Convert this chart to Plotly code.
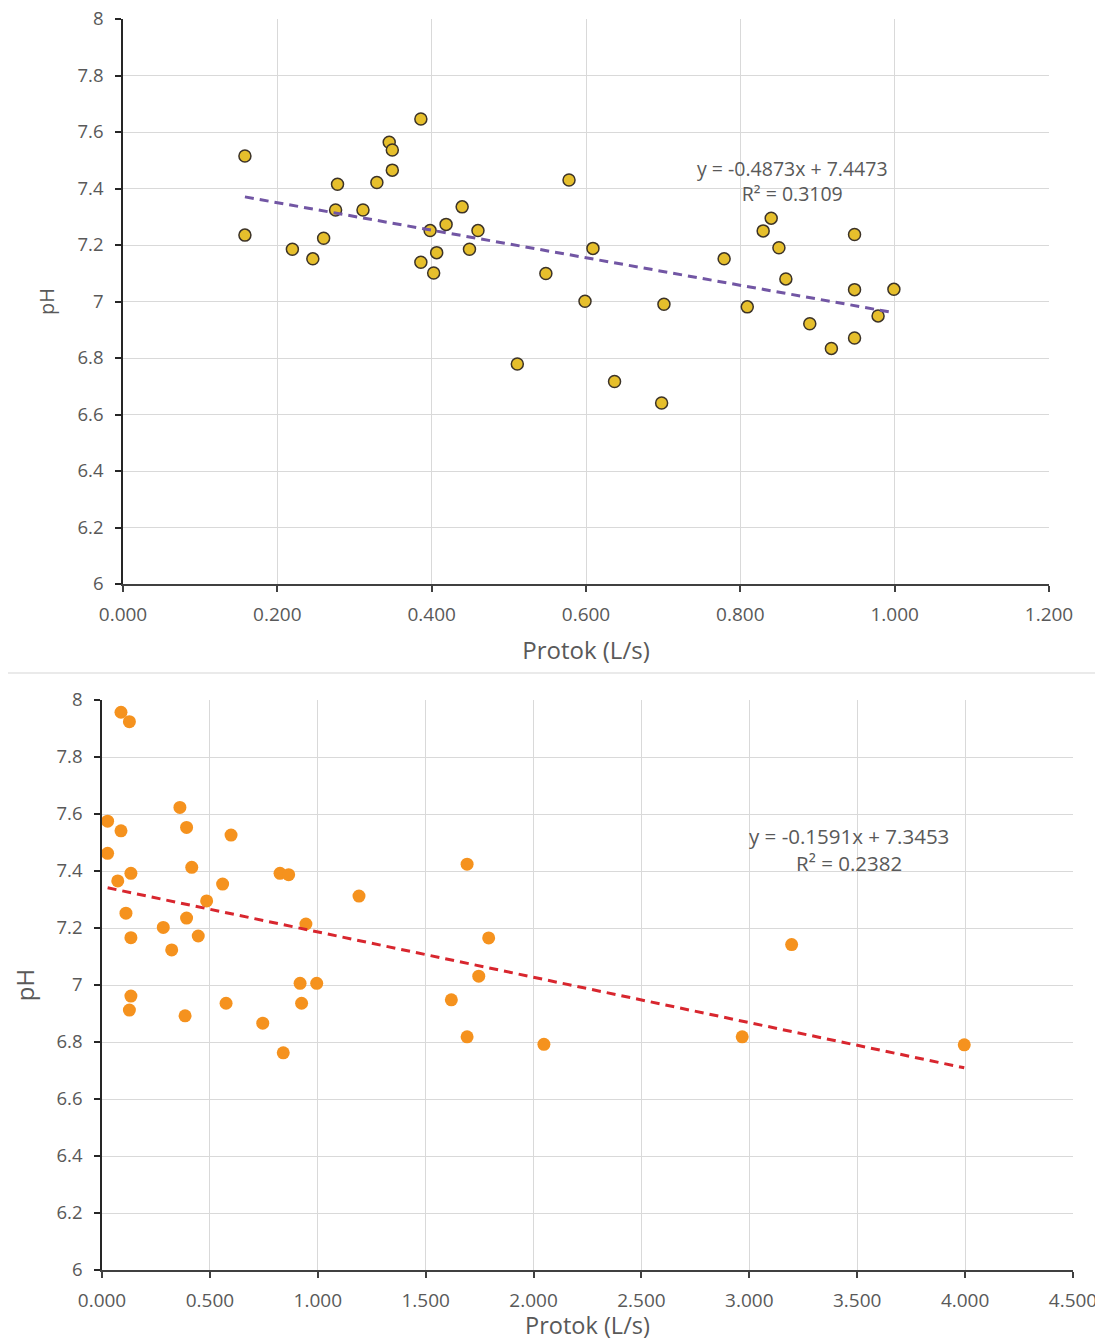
import plotly.graph_objects as go

# ---------------- data: top chart ----------------
top_x = [0.158, 0.158, 0.2195, 0.246, 0.260, 0.278, 0.2755, 0.311, 0.329, 0.345,
         0.349, 0.349, 0.386, 0.386, 0.398, 0.4026, 0.4065, 0.4187, 0.4395, 0.449,
         0.460, 0.578, 0.609, 0.548, 0.5987, 0.701, 0.511, 0.637, 0.698, 0.779,
         0.809, 0.8296, 0.840, 0.850, 0.859, 0.890, 0.918, 0.948, 0.948, 0.948,
         0.9785, 0.999]
top_y = [7.515, 7.235, 7.185, 7.151, 7.224, 7.415, 7.324, 7.324, 7.421, 7.564,
         7.536, 7.465, 7.646, 7.139, 7.251, 7.101, 7.173, 7.273, 7.335, 7.185,
         7.251, 7.430, 7.188, 7.099, 7.001, 6.990, 6.779, 6.717, 6.641, 7.151,
         6.981, 7.250, 7.295, 7.190, 7.080, 6.921, 6.834, 7.237, 7.042, 6.871,
         6.949, 7.043]
top_slope, top_intercept = -0.4873, 7.4473
top_eq = ["y = -0.4873x + 7.4473", "R² = 0.3109"]
top_xticks = [0.0, 0.2, 0.4, 0.6, 0.8, 1.0, 1.2]

# ---------------- data: bottom chart ----------------
bot_x = [0.088, 0.127, 0.026, 0.088, 0.026, 0.073, 0.134, 0.111, 0.134, 0.134,
         0.127, 0.284, 0.323, 0.361, 0.392, 0.416, 0.392, 0.385, 0.446, 0.485,
         0.559, 0.598, 0.575, 0.745, 0.825, 0.865, 0.840, 0.945, 0.918, 0.995,
         0.925, 1.191, 1.692, 1.792, 1.746, 1.619, 1.692, 2.048, 2.967, 3.196,
         3.996]
bot_y = [7.957, 7.924, 7.575, 7.541, 7.462, 7.365, 7.392, 7.252, 7.166, 6.961,
         6.912, 7.202, 7.123, 7.623, 7.553, 7.413, 7.235, 6.892, 7.172, 7.295,
         7.354, 7.526, 6.936, 6.866, 7.392, 7.387, 6.762, 7.214, 7.006, 7.006,
         6.936, 7.312, 7.424, 7.165, 7.031, 6.948, 6.818, 6.792, 6.818, 7.142,
         6.790]
bot_slope, bot_intercept = -0.1591, 7.3453
bot_eq = ["y = -0.1591x + 7.3453", "R² = 0.2382"]
bot_xticks = [0.0, 0.5, 1.0, 1.5, 2.0, 2.5, 3.0, 3.5, 4.0, 4.5]

# shared pH ticks
y_ticks = [6.0, 6.2, 6.4, 6.6, 6.8, 7.0, 7.2, 7.4, 7.6, 7.8, 8.0]
y_ticktext = ["6", "6.2", "6.4", "6.6", "6.8", "7", "7.2", "7.4", "7.6", "7.8", "8"]

x_title = "Protok (L/s)"
y_title = "pH"

# ---------------- figure ----------------
# the page body adds an 8px margin, so the figure starts at (8, 8)
OFF = 8
W, H = 1103 - OFF, 1341 - OFF
FONT = "Open Sans, Noto Sans, sans-serif"
TXT = "#595959"
GRID = "#D9D9D9"

def px_x(p):
    return (p - OFF) / W

def px_y(p):
    return 1 - (p - OFF) / H

fig = go.Figure()

# top scatter
fig.add_trace(go.Scatter(
    x=top_x, y=top_y, mode="markers", xaxis="x", yaxis="y",
    marker=dict(size=12, color="#E6BF2C", line=dict(color="#3C3328", width=1.5)),
    showlegend=False, hoverinfo="x+y"))
tx = [min(top_x), max(top_x)]
fig.add_trace(go.Scatter(
    x=tx, y=[top_slope * v + top_intercept for v in tx], mode="lines",
    xaxis="x", yaxis="y",
    line=dict(color="#7256A4", width=3, dash="9px,6px"), showlegend=False))

# bottom scatter
fig.add_trace(go.Scatter(
    x=bot_x, y=bot_y, mode="markers", xaxis="x2", yaxis="y2",
    marker=dict(size=13, color="#F5921E", line=dict(width=0)),
    showlegend=False, hoverinfo="x+y"))
bx = [min(bot_x), max(bot_x)]
fig.add_trace(go.Scatter(
    x=bx, y=[bot_slope * v + bot_intercept for v in bx], mode="lines",
    xaxis="x2", yaxis="y2",
    line=dict(color="#D8262E", width=3, dash="9px,6px"), showlegend=False))

common_x = dict(showgrid=True, gridcolor=GRID, gridwidth=1, zeroline=False,
                showline=True, linecolor="#404040", linewidth=2,
                ticks="outside", ticklen=6, tickcolor="#404040", tickwidth=1.5,
                tickmode="array", tickformat=".3f", ticklabelstandoff=6,
                ticklabeloverflow="allow", automargin=False)
common_y = dict(showgrid=True, gridcolor=GRID, gridwidth=1, zeroline=False,
                showline=True, linecolor="#262626", linewidth=1.5,
                ticks="outside", ticklen=6, tickcolor="#262626", tickwidth=1.5,
                range=[6, 8], tickmode="array", tickvals=y_ticks,
                ticktext=y_ticktext, ticklabelstandoff=8,
                ticklabeloverflow="allow", automargin=False)

fig.update_layout(
    width=W, height=H,
    margin=dict(l=0, r=0, t=0, b=0, autoexpand=False),
    paper_bgcolor="white", plot_bgcolor="white",
    font=dict(family=FONT, color=TXT),
    xaxis=dict(domain=[px_x(123), px_x(1049)], anchor="y",
               range=[0, 1.2], tickvals=top_xticks,
               tickfont=dict(size=19, color=TXT),
               title=dict(text=x_title, font=dict(size=24, color=TXT), standoff=16),
               **common_x),
    yaxis=dict(domain=[px_y(584), px_y(19)], anchor="x",
               tickfont=dict(size=18.5, color=TXT),
               title=dict(text=y_title, font=dict(size=20, color=TXT), standoff=18),
               **common_y),
    xaxis2=dict(domain=[px_x(102), px_x(1073)], anchor="y2",
                range=[0, 4.5], tickvals=bot_xticks,
                tickfont=dict(size=19, color=TXT),
                title=dict(text=x_title, font=dict(size=23.5, color=TXT), standoff=6),
                **common_x),
    yaxis2=dict(domain=[px_y(1270), px_y(700)], anchor="x2",
                tickfont=dict(size=18.5, color=TXT),
                title=dict(text=y_title, font=dict(size=24, color=TXT), standoff=18),
                **common_y),
)

# trendline equation labels
fig.add_annotation(x=0.868, y=7.425, xref="x", yref="y",
                   text=top_eq[0] + "<br>" + top_eq[1], showarrow=False,
                   font=dict(size=19.5, color=TXT), align="center")
fig.add_annotation(x=3.462, y=7.474, xref="x2", yref="y2",
                   text=bot_eq[0] + "<br>" + bot_eq[1], showarrow=False,
                   font=dict(size=20.5, color=TXT), align="center")

# separator between the two charts
fig.add_shape(type="line", xref="paper", yref="paper",
              x0=0, x1=px_x(1095), y0=px_y(673), y1=px_y(673),
              line=dict(color="#E3E3E3", width=1.5))

fig.write_html("out.html")
